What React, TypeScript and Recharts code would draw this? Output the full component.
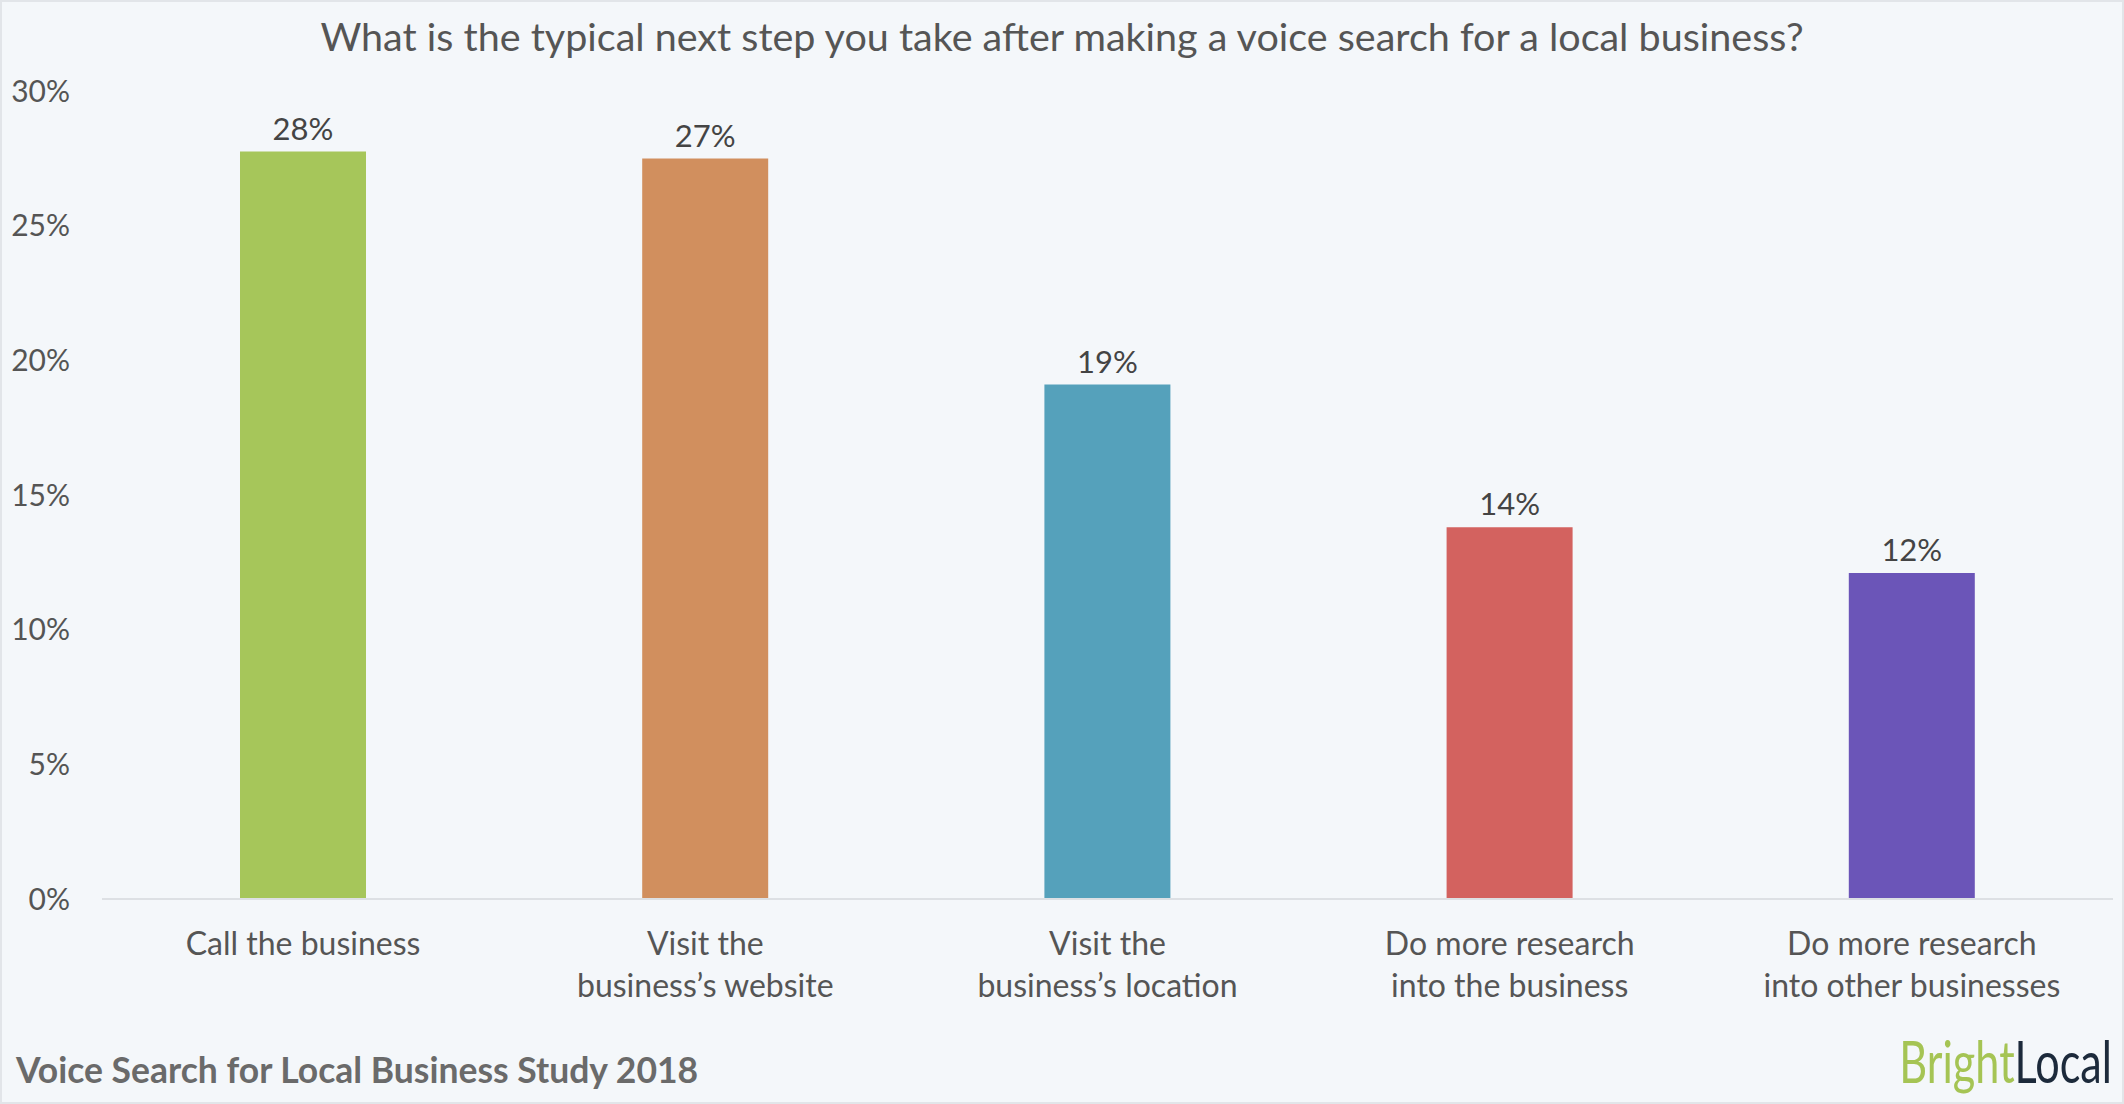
import { Bar, BarChart, Cell, LabelList, XAxis, YAxis } from 'recharts';

const W = 2124;
const H = 1104;

const TITLE = 'What is the typical next step you take after making a voice search for a local business?';
const FOOTER = 'Voice Search for Local Business Study 2018';

const categories = [
  'Call the business',
  'Visit the\nbusiness’s website',
  'Visit the\nbusiness’s location',
  'Do more research\ninto the business',
  'Do more research\ninto other businesses',
];
const shares = [27.75, 27.49, 19.1, 13.8, 12.1];
const colors = ['#a6c65a', '#d18f5e', '#55a1bb', '#d3625f', '#6b55b8'];
const yTicks = [0, 5, 10, 15, 20, 25, 30];

const FONT = 'Lato, "Open Sans", sans-serif';
const TEXT = '#555555';

const data = categories.map((name, i) => ({ name, value: shares[i] }));

function CategoryTick({ x, y, payload }: any) {
  const lines = String(payload.value).split('\n');
  return (
    <text x={x} y={y} textAnchor="middle" fill={TEXT} fontSize={32} fontFamily={FONT}>
      {lines.map((l, i) => (
        <tspan key={i} x={x} dy={i === 0 ? 56 : 42}>
          {l}
        </tspan>
      ))}
    </text>
  );
}

export default function App() {
  return (
    <div
      style={{
        position: 'absolute',
        left: 0,
        top: 0,
        width: W,
        height: H,
        background: '#f4f7fa',
        boxSizing: 'border-box',
        border: '2px solid #e2e5e9',
      }}
    >
      <BarChart
        width={W - 4}
        height={H - 4}
        data={data}
        margin={{ top: 89, right: 9, bottom: 83, left: 0 }}
        style={{ position: 'absolute', left: 0, top: 0 }}
      >
        <XAxis
          dataKey="name"
          tick={<CategoryTick />}
          tickLine={false}
          tickSize={0}
          tickMargin={0}
          height={120}
          axisLine={{ stroke: '#dde0e4', strokeWidth: 2 }}
          interval={0}
        />
        <YAxis
          domain={[0, 30]}
          ticks={yTicks}
          width={100}
          axisLine={false}
          tickLine={false}
          tickSize={0}
          tickMargin={32}
          tickFormatter={(v: number) => `${v}%`}
          tick={{ fill: TEXT, fontSize: 30, fontFamily: FONT }}
        />
        <Bar dataKey="value" barSize={126} isAnimationActive={false}>
          {data.map((d, i) => (
            <Cell key={d.name} fill={colors[i]} />
          ))}
          <LabelList
            dataKey="value"
            position="top"
            offset={12}
            formatter={(v: any) => `${Math.round(Number(v))}%`}
            style={{ fill: '#444', fontSize: 31, fontFamily: FONT }}
          />
        </Bar>
      </BarChart>
      <svg
        width={W - 4}
        height={H - 4}
        style={{ position: 'absolute', left: 0, top: 0, pointerEvents: 'none' }}
      >
        <text x={1060} y={49} textAnchor="middle" fill={TEXT} fontSize={39.5} fontFamily={FONT}>
          {TITLE}
        </text>
        <text x={14} y={1081} fill="#6a6a6a" fontSize={35.5} fontWeight={700} fontFamily={FONT}>
          {FOOTER}
        </text>
        <text
          transform="translate(2110,1081) scale(0.745,1)"
          x={0}
          y={0}
          textAnchor="end"
          fontSize={58}
          fontFamily={FONT}
        >
          <tspan fill="#a5c454">Bright</tspan>
          <tspan fill="#1c2a3b">Local</tspan>
        </text>
      </svg>
    </div>
  );
}
